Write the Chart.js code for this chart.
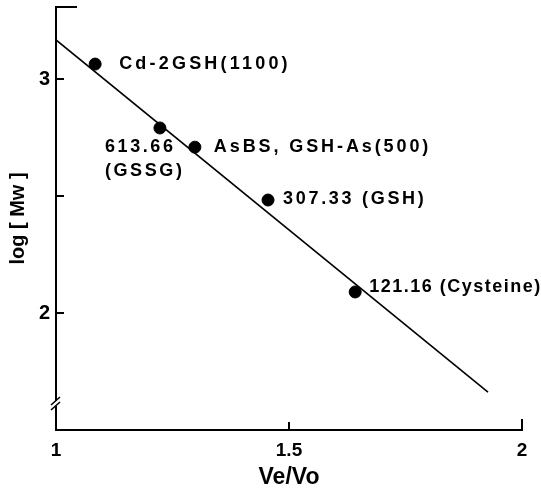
<!DOCTYPE html>
<html>
<head>
<meta charset="utf-8">
<script src="https://cdn.jsdelivr.net/npm/chart.js@4"></script>
<style>
  body { margin: 0; background: #fff; }
  canvas { display: block; }
</style>
</head>
<body>
<canvas id="chart" width="541" height="494"></canvas>
<script>
// values
var compounds = ['Cd-2GSH(1100)', '613.66|(GSSG)', 'AsBS, GSH-As(500)', '307.33 (GSH)', '121.16 (Cysteine)'];
var veVo = [1.084, 1.223, 1.298, 1.455, 1.642];
var logMw = [3.064, 2.791, 2.709, 2.483, 2.090];
var fitX = [1.0, 1.927];
var fitY = [3.167, 1.662];
var xTicks = [1, 1.5, 2];
var yTicks = [2, 2.5, 3];

var points = veVo.map(function (v, i) { return { x: v, y: logMw[i] }; });
var fitLine = fitX.map(function (v, i) { return { x: v, y: fitY[i] }; });

var fontFamily = '"Liberation Sans", Arial, sans-serif';
var labelFont = 'bold 18px ' + fontFamily;

// label placement relative to each point, and letter spacing per label
var labelOffsets = [[24, 0], [-55, 19], [19, 0], [15, -1], [14, -5]];
var labelSpacing = [3.2, 2.6, 2.9, 2.7, 1.5];

var pointLabels = {
    id: 'pointLabels',
    afterDatasetsDraw: function (chart) {
        var ctx = chart.ctx;
        var meta = chart.getDatasetMeta(1);
        ctx.save();
        ctx.font = labelFont;
        ctx.fillStyle = '#000';
        ctx.textBaseline = 'middle';
        ctx.textAlign = 'left';
        meta.data.forEach(function (pt, i) {
            ctx.letterSpacing = labelSpacing[i] + 'px';
            var lines = compounds[i].split('|');
            lines.forEach(function (line, j) {
                ctx.fillText(line, pt.x + labelOffsets[i][0], pt.y + labelOffsets[i][1] + j * 24);
            });
        });
        ctx.restore();
    }
};

// inward tick marks, frame corners and the axis break
var axisDecor = {
    id: 'axisDecor',
    afterDraw: function (chart) {
        var ctx = chart.ctx;
        var xs = chart.scales.x, ys = chart.scales.y;
        var left = chart.chartArea.left, bottom = chart.chartArea.bottom;
        var top = chart.chartArea.top;
        ctx.save();
        ctx.strokeStyle = '#000';
        ctx.lineWidth = 2;
        ctx.beginPath();
        yTicks.forEach(function (t) {
            var py = ys.getPixelForValue(t);
            ctx.moveTo(left, py); ctx.lineTo(left + 8, py);
        });
        var px = xs.getPixelForValue(1.5);
        ctx.moveTo(px, bottom); ctx.lineTo(px, bottom - 8);
        ctx.moveTo(left - 1, top); ctx.lineTo(left + 21, top);
        var pr = xs.getPixelForValue(2);
        ctx.moveTo(pr, bottom + 1); ctx.lineTo(pr, bottom - 11);
        ctx.stroke();
        // break
        var by = bottom - 26;
        ctx.fillStyle = '#fff';
        ctx.fillRect(left - 3, by - 3, 6, 5);
        ctx.lineWidth = 1.6;
        ctx.beginPath();
        ctx.moveTo(left - 5, by + 1); ctx.lineTo(left + 4, by - 7);
        ctx.moveTo(left - 5, by + 6); ctx.lineTo(left + 4, by - 2);
        ctx.stroke();
        ctx.restore();
    }
};

var ctx = document.getElementById('chart').getContext('2d');
var myChart = new Chart(ctx, {
    type: 'scatter',
    data: {
        datasets: [{
            label: 'fit',
            data: fitLine,
            showLine: true,
            borderColor: '#000',
            borderWidth: 1.6,
            pointRadius: 0,
            fill: false
        }, {
            label: 'compounds',
            data: points,
            backgroundColor: '#000',
            borderColor: '#000',
            pointRadius: 6,
            pointHoverRadius: 6
        }]
    },
    options: {
        responsive: false,
        devicePixelRatio: 1,
        animation: false,
        events: [],
        layout: { padding: { top: 7, right: 19, left: 0, bottom: 0 } },
        plugins: {
            legend: { display: false },
            tooltip: { enabled: false }
        },
        scales: {
            x: {
                type: 'linear',
                min: 1,
                max: 2,
                afterBuildTicks: function (scale) {
                    scale.ticks = xTicks.map(function (v) { return { value: v }; });
                },
                afterFit: function (scale) { scale.height = 64; },
                grid: { display: false, drawTicks: false },
                border: { color: '#000', width: 2 },
                ticks: {
                    padding: 9,
                    color: '#000',
                    maxRotation: 0,
                    font: { family: fontFamily, size: 19, weight: 'bold' },
                    callback: function (v) { return String(v); }
                },
                title: {
                    display: true,
                    text: 'Ve/Vo',
                    color: '#000',
                    padding: { top: 0, bottom: 3 },
                    font: { family: fontFamily, size: 23, weight: 'bold' }
                }
            },
            y: {
                type: 'linear',
                min: 1.5,
                max: 3.308,
                afterBuildTicks: function (scale) {
                    scale.ticks = yTicks.map(function (v) { return { value: v }; });
                },
                afterFit: function (scale) {
                    scale.width = 56;
                    scale.paddingTop = 0;
                    scale.paddingBottom = 0;
                },
                grid: { display: false, drawTicks: false },
                border: { color: '#000', width: 2 },
                ticks: {
                    padding: 6,
                    color: '#000',
                    font: { family: fontFamily, size: 20, weight: 'bold' },
                    callback: function (v) { return v === 2.5 ? '' : String(v); }
                },
                title: {
                    display: true,
                    text: 'log [ Mw ]',
                    color: '#000',
                    padding: { top: 6, bottom: 0 },
                    font: { family: fontFamily, size: 20, weight: 'bold' }
                }
            }
        }
    },
    plugins: [pointLabels, axisDecor]
});
</script>
</body>
</html>
